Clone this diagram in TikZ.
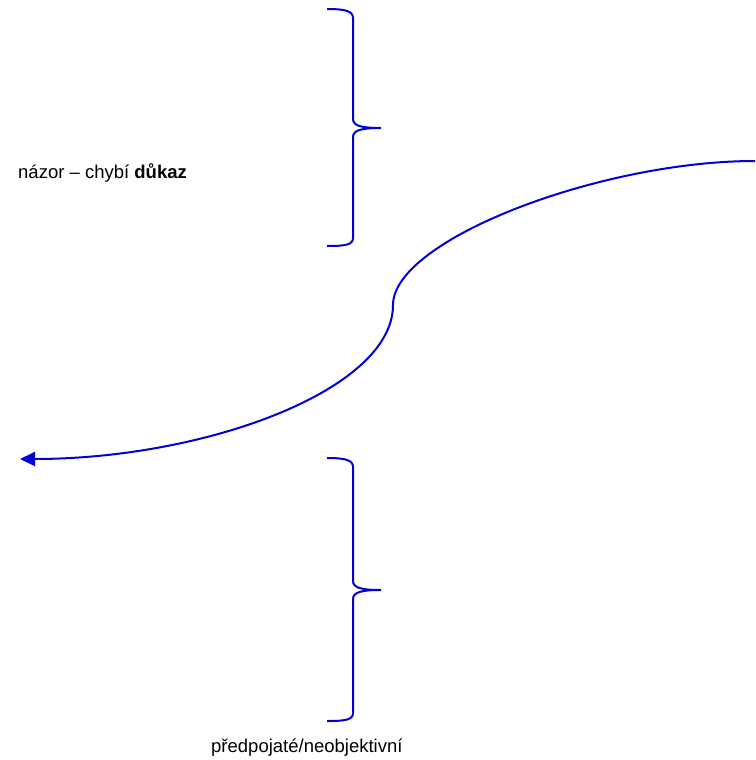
\documentclass[tikz,border=0pt]{standalone}
\usepackage{fontspec}
\setmainfont{Liberation Sans}
\usetikzlibrary{arrows.meta}
\definecolor{lineblue}{RGB}{0,0,215}
\begin{document}
\begin{tikzpicture}[x=1pt,y=-1pt,
  bline/.style={draw=lineblue,line width=2pt},
  lbl/.style={font=\fontsize{18.5}{22}\selectfont,inner sep=0pt,anchor=base west}]
\useasboundingbox (0,0) rectangle (755,760);
% top brace
\draw[bline] (327,9) .. controls (345,9) and (353,11) .. (353,18) -- (353,119)
  .. controls (353,126) and (362,128) .. (381,128)
  .. controls (362,128) and (353,130) .. (353,137) -- (353,238)
  .. controls (353,245) and (345,246) .. (327,246);
% bottom brace
\draw[bline] (327,458) .. controls (345,458) and (353,460) .. (353,467) -- (353,581)
  .. controls (353,588) and (362,590) .. (381,590)
  .. controls (362,590) and (353,592) .. (353,599) -- (353,713)
  .. controls (353,720) and (345,721) .. (327,721);
% texts
\node[lbl] (t1) at (18,178) {názor – chybí \textbf{důkaz}};
\node[lbl] (t2) at (211,752) {předpojaté/neobjektivní};
% curve
\coordinate (s) at (755,161);
\coordinate (m) at (393,305);
\coordinate (e) at (20,459);
\draw[bline,-{Triangle[length=15pt,width=14pt]}] (s) .. controls (600,161) and (393,240) .. (m)
  .. controls (393,390) and (205,459) .. (e);
\end{tikzpicture}
\end{document}
